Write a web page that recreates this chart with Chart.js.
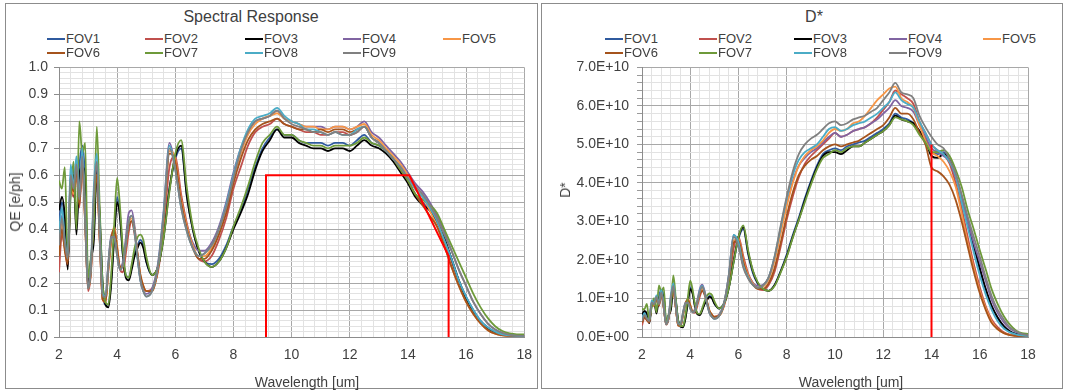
<!DOCTYPE html>
<html><head><meta charset="utf-8">
<script src="https://cdn.jsdelivr.net/npm/chart.js@4.4.1/dist/chart.umd.min.js"></script>
<style>
html,body{margin:0;padding:0;background:#fff;}
body{width:1065px;height:392px;position:relative;overflow:hidden;font-family:"Liberation Sans",Arial,sans-serif;color:#404040;}
.panel{position:absolute;box-sizing:border-box;border:1px solid #8c8c8c;}
.title{position:absolute;width:300px;text-align:center;font-size:16px;line-height:18px;transform:translate(-50%,-50%);}
.leg{position:absolute;font-size:13px;line-height:14px;white-space:nowrap;transform:translateY(-50%);}
.leg i{display:inline-block;width:18px;height:2px;vertical-align:middle;margin-right:1px;position:relative;top:-1px;}
.axt{position:absolute;font-size:14px;line-height:16px;white-space:nowrap;transform:translate(-50%,-50%);}
.axt.rot{transform:translate(-50%,-50%) rotate(-90deg);}
canvas{position:absolute;}
</style></head>
<body>
<div class="panel" style="left:5px;top:3px;width:533px;height:386px;"></div>
<div class="panel" style="left:541px;top:3px;width:522px;height:386px;"></div>
<canvas id="cL" width="537" height="337" style="left:0px;top:53px;"></canvas>
<canvas id="cR" width="521" height="339" style="left:541px;top:51px;"></canvas>
<div class="title" style="left:251px;top:17px;">Spectral Response</div>
<div class="title" style="left:814px;top:17px;">D*</div>
<div class="axt" style="left:307px;top:382px;">Wavelength [um]</div>
<div class="axt" style="left:851px;top:382px;">Wavelength [um]</div>
<div class="axt rot" style="left:15px;top:202px;">QE [e/ph]</div>
<div class="axt rot" style="left:565px;top:190px;">D*</div>
<div id="legends"></div>
<script>
// ---------- DATA ----------
const wavelength = [2.0,2.1,2.2,2.3,2.4,2.5,2.6,2.7,2.8,2.9,
 3.0,3.1,3.2,3.3,3.4,3.5,3.6,3.7,3.8,3.9,
 4.0,4.1,4.2,4.3,4.4,4.5,4.6,4.7,4.8,4.9,
 5.0,5.2,5.4,5.6,5.8,6.0,6.2,6.4,6.6,6.8,
 7.0,7.25,7.5,7.75,8.0,8.25,8.5,8.75,9.0,9.25,
 9.5,9.75,10.0,10.25,10.5,10.75,11.0,11.25,11.5,11.75,
 12.0,12.25,12.5,12.75,13.0,13.25,13.5,13.75,14.0,14.25,
 14.5,14.75,15.0,15.25,15.5,15.75,16.0,16.25,16.5,16.75,
 17.0,17.25,17.5,17.75,18.0];

const fovNames = ['FOV1','FOV2','FOV3','FOV4','FOV5','FOV6','FOV7','FOV8','FOV9'];
const fovColors = ['#2F5A9E','#C0504D','#000000','#8064A2','#F79646','#A5531C','#6E9A3A','#4BACC6','#808080'];

// QE [e/ph]
const qeFOV1 = [0.43,0.50,0.42,0.27,0.58,0.62,0.42,0.63,0.71,0.58,
 0.19,0.28,0.40,0.64,0.44,0.18,0.12,0.12,0.22,0.38,
 0.52,0.45,0.30,0.23,0.22,0.26,0.31,0.34,0.36,0.34,
 0.28,0.23,0.26,0.38,0.55,0.66,0.70,0.52,0.40,0.32,
 0.28,0.27,0.29,0.34,0.41,0.47,0.55,0.63,0.70,0.74,
 0.77,0.75,0.75,0.73,0.72,0.72,0.72,0.71,0.72,0.72,
 0.71,0.73,0.75,0.72,0.71,0.69,0.66,0.62,0.58,0.53,
 0.50,0.47,0.43,0.36,0.29,0.21,0.15,0.10,0.06,0.035,
 0.018,0.01,0.006,0.004,0.003];
const qeFOV2 = [0.24,0.38,0.33,0.26,0.55,0.52,0.60,0.48,0.64,0.42,
 0.17,0.24,0.48,0.58,0.36,0.14,0.13,0.25,0.36,0.39,
 0.32,0.25,0.24,0.31,0.39,0.43,0.38,0.30,0.22,0.18,
 0.17,0.18,0.24,0.40,0.63,0.67,0.53,0.42,0.34,0.29,
 0.28,0.30,0.36,0.44,0.55,0.63,0.71,0.76,0.78,0.79,
 0.81,0.79,0.78,0.77,0.76,0.76,0.75,0.75,0.76,0.76,
 0.75,0.76,0.78,0.74,0.72,0.69,0.66,0.62,0.59,0.55,
 0.52,0.48,0.43,0.36,0.28,0.20,0.14,0.09,0.055,0.03,
 0.015,0.008,0.005,0.004,0.003];
const qeFOV3 = [0.47,0.52,0.45,0.25,0.55,0.60,0.38,0.60,0.63,0.60,
 0.20,0.29,0.36,0.62,0.45,0.20,0.12,0.11,0.20,0.37,
 0.50,0.44,0.30,0.22,0.21,0.25,0.30,0.33,0.35,0.33,
 0.28,0.23,0.26,0.37,0.55,0.67,0.71,0.52,0.40,0.32,
 0.28,0.26,0.28,0.33,0.40,0.46,0.53,0.62,0.69,0.73,
 0.77,0.74,0.74,0.72,0.71,0.70,0.70,0.69,0.70,0.70,
 0.69,0.71,0.73,0.71,0.70,0.68,0.65,0.61,0.57,0.52,
 0.49,0.47,0.43,0.37,0.29,0.21,0.14,0.09,0.055,0.03,
 0.016,0.009,0.006,0.004,0.003];
const qeFOV4 = [0.35,0.45,0.34,0.28,0.60,0.55,0.64,0.50,0.67,0.44,
 0.19,0.26,0.52,0.64,0.38,0.15,0.15,0.28,0.38,0.38,
 0.31,0.26,0.28,0.37,0.46,0.47,0.41,0.30,0.21,0.17,
 0.16,0.18,0.27,0.47,0.72,0.63,0.49,0.41,0.35,0.32,
 0.32,0.35,0.41,0.50,0.61,0.70,0.76,0.80,0.81,0.82,
 0.84,0.81,0.80,0.79,0.78,0.78,0.78,0.77,0.78,0.78,
 0.77,0.78,0.80,0.76,0.74,0.71,0.68,0.65,0.61,0.57,
 0.54,0.50,0.45,0.39,0.32,0.25,0.19,0.13,0.085,0.05,
 0.028,0.015,0.008,0.005,0.004];
const qeFOV5 = [0.33,0.42,0.33,0.28,0.58,0.53,0.62,0.50,0.66,0.43,
 0.18,0.25,0.50,0.60,0.37,0.14,0.13,0.25,0.36,0.41,
 0.34,0.26,0.26,0.34,0.42,0.44,0.40,0.31,0.23,0.19,
 0.17,0.17,0.25,0.43,0.69,0.66,0.51,0.41,0.34,0.30,
 0.30,0.33,0.39,0.47,0.58,0.68,0.75,0.79,0.81,0.82,
 0.83,0.81,0.80,0.79,0.78,0.78,0.77,0.77,0.78,0.78,
 0.77,0.78,0.79,0.75,0.73,0.70,0.67,0.64,0.60,0.55,
 0.52,0.47,0.41,0.34,0.26,0.19,0.13,0.085,0.05,0.025,
 0.012,0.006,0.004,0.003,0.003];
const qeFOV6 = [0.30,0.40,0.32,0.27,0.57,0.54,0.62,0.49,0.65,0.42,
 0.18,0.25,0.49,0.60,0.36,0.14,0.13,0.26,0.37,0.40,
 0.33,0.26,0.26,0.34,0.41,0.43,0.39,0.31,0.23,0.19,
 0.17,0.17,0.25,0.44,0.68,0.65,0.50,0.40,0.33,0.29,
 0.29,0.32,0.38,0.46,0.57,0.66,0.73,0.77,0.79,0.80,
 0.81,0.79,0.78,0.77,0.77,0.76,0.77,0.76,0.77,0.77,
 0.76,0.77,0.78,0.74,0.72,0.69,0.66,0.62,0.58,0.53,
 0.49,0.45,0.41,0.34,0.26,0.19,0.13,0.085,0.05,0.025,
 0.012,0.006,0.004,0.003,0.003];
const qeFOV7 = [0.58,0.55,0.63,0.30,0.52,0.65,0.40,0.80,0.68,0.72,
 0.22,0.30,0.42,0.78,0.48,0.20,0.13,0.12,0.24,0.42,
 0.59,0.48,0.32,0.23,0.22,0.27,0.33,0.37,0.38,0.36,
 0.30,0.23,0.26,0.37,0.54,0.68,0.73,0.55,0.41,0.33,
 0.28,0.26,0.28,0.33,0.41,0.48,0.56,0.65,0.72,0.75,
 0.78,0.75,0.75,0.73,0.72,0.71,0.71,0.70,0.71,0.71,
 0.71,0.72,0.74,0.72,0.71,0.69,0.66,0.62,0.58,0.53,
 0.51,0.49,0.46,0.40,0.34,0.28,0.22,0.16,0.11,0.07,
 0.04,0.022,0.013,0.01,0.01];
const qeFOV8 = [0.38,0.48,0.36,0.30,0.64,0.56,0.67,0.52,0.70,0.45,
 0.18,0.27,0.56,0.68,0.40,0.16,0.15,0.27,0.37,0.37,
 0.30,0.25,0.27,0.35,0.43,0.45,0.39,0.29,0.21,0.17,
 0.15,0.17,0.26,0.46,0.71,0.62,0.48,0.39,0.33,0.30,
 0.31,0.34,0.40,0.49,0.60,0.70,0.77,0.81,0.82,0.83,
 0.85,0.82,0.80,0.79,0.77,0.77,0.76,0.75,0.76,0.75,
 0.75,0.77,0.78,0.74,0.72,0.69,0.66,0.63,0.59,0.55,
 0.52,0.48,0.43,0.36,0.29,0.21,0.15,0.10,0.06,0.035,
 0.02,0.01,0.006,0.004,0.003];
const qeFOV9 = [0.34,0.44,0.35,0.29,0.60,0.55,0.64,0.51,0.67,0.44,
 0.18,0.26,0.53,0.65,0.39,0.15,0.15,0.27,0.37,0.37,
 0.30,0.25,0.27,0.35,0.43,0.45,0.40,0.30,0.21,0.17,
 0.15,0.17,0.26,0.45,0.70,0.62,0.48,0.39,0.33,0.30,
 0.31,0.34,0.40,0.48,0.59,0.69,0.76,0.80,0.81,0.82,
 0.84,0.81,0.79,0.78,0.77,0.76,0.76,0.75,0.76,0.75,
 0.75,0.76,0.78,0.74,0.72,0.69,0.66,0.63,0.59,0.56,
 0.53,0.49,0.44,0.38,0.32,0.25,0.19,0.13,0.085,0.05,
 0.028,0.015,0.008,0.005,0.004];

// D* in units of 1E+10
const D_UNIT = 1e10;
const dFOV1 = [0.53,0.65,0.57,0.39,0.86,0.96,0.68,1.05,1.23,1.04,
 0.35,0.54,0.79,1.31,0.93,0.39,0.27,0.28,0.52,0.92,
 1.29,1.14,0.78,0.61,0.60,0.73,0.88,0.99,1.07,1.03,
 0.87,0.74,0.87,1.30,1.95,2.55,2.80,2.15,1.65,1.38,
 1.25,1.20,1.36,1.72,2.15,2.65,3.10,3.60,4.05,4.45,
 4.75,4.85,4.90,4.85,4.95,5.00,5.05,5.10,5.20,5.30,
 5.40,5.55,5.80,5.70,5.65,5.55,5.35,5.15,4.80,4.75,
 4.80,4.60,4.20,3.60,2.95,2.35,1.75,1.20,0.78,0.48,
 0.27,0.14,0.08,0.05,0.04];
const dFOV2 = [0.30,0.50,0.45,0.37,0.82,0.81,0.97,0.81,1.11,0.76,
 0.32,0.46,0.95,1.19,0.76,0.30,0.29,0.57,0.85,0.95,
 0.79,0.64,0.63,0.83,1.06,1.20,1.08,0.87,0.65,0.55,
 0.53,0.58,0.80,1.38,2.30,2.60,2.10,1.65,1.40,1.25,
 1.22,1.35,1.70,2.35,3.05,3.65,4.15,4.50,4.70,4.85,
 5.00,5.15,5.30,5.20,5.25,5.35,5.40,5.45,5.55,5.70,
 5.90,6.10,6.40,6.30,6.20,6.05,5.60,5.30,5.00,4.85,
 4.75,4.50,4.00,3.35,2.60,1.90,1.30,0.80,0.45,0.25,
 0.12,0.06,0.04,0.03,0.02];
const dFOV3 = [0.58,0.68,0.61,0.36,0.82,0.93,0.61,1.00,1.09,1.08,
 0.37,0.56,0.71,1.27,0.95,0.43,0.27,0.25,0.47,0.89,
 1.24,1.12,0.78,0.59,0.57,0.70,0.86,0.96,1.04,1.00,
 0.87,0.74,0.87,1.28,1.98,2.60,2.85,2.20,1.70,1.40,
 1.25,1.20,1.35,1.70,2.10,2.60,3.05,3.55,4.00,4.40,
 4.70,4.80,4.80,4.75,4.85,4.95,4.95,5.05,5.15,5.25,
 5.35,5.50,5.75,5.65,5.60,5.55,5.35,5.10,4.70,4.65,
 4.75,4.60,4.20,3.65,3.00,2.40,1.80,1.25,0.80,0.50,
 0.28,0.15,0.08,0.05,0.04];
const dFOV4 = [0.43,0.58,0.46,0.40,0.90,0.85,1.03,0.84,1.16,0.79,
 0.35,0.50,1.03,1.31,0.80,0.33,0.33,0.64,0.89,0.92,
 0.77,0.66,0.73,0.98,1.26,1.36,1.18,0.88,0.63,0.52,
 0.48,0.58,0.88,1.62,2.65,2.40,1.85,1.60,1.40,1.33,
 1.35,1.55,2.05,2.75,3.45,4.05,4.45,4.65,4.80,4.90,
 5.05,5.20,5.30,5.20,5.25,5.35,5.40,5.45,5.55,5.65,
 5.80,5.95,6.15,6.00,5.95,5.85,5.50,5.20,4.90,4.80,
 4.70,4.55,4.15,3.60,3.00,2.45,1.95,1.45,0.95,0.62,
 0.38,0.22,0.13,0.07,0.05];
const dFOV5 = [0.41,0.55,0.45,0.40,0.87,0.82,1.00,0.84,1.14,0.77,
 0.34,0.48,0.99,1.23,0.78,0.30,0.29,0.57,0.85,0.99,
 0.84,0.66,0.68,0.90,1.14,1.24,1.14,0.90,0.68,0.58,
 0.52,0.55,0.84,1.50,2.50,2.55,2.00,1.60,1.38,1.28,
 1.30,1.50,2.00,2.70,3.40,4.00,4.45,4.70,4.85,4.95,
 5.10,5.30,5.40,5.35,5.40,5.55,5.60,5.75,5.95,6.15,
 6.30,6.45,6.50,6.20,6.10,5.95,5.50,5.10,4.80,4.70,
 4.55,4.30,3.90,3.20,2.45,1.80,1.20,0.75,0.40,0.20,
 0.10,0.05,0.03,0.02,0.02];
const dFOV6 = [0.37,0.52,0.44,0.38,0.85,0.84,1.00,0.82,1.12,0.76,
 0.33,0.48,0.97,1.22,0.76,0.30,0.29,0.59,0.87,0.97,
 0.82,0.66,0.68,0.90,1.11,1.20,1.11,0.90,0.68,0.58,
 0.52,0.55,0.84,1.52,2.45,2.50,1.95,1.55,1.35,1.25,
 1.25,1.40,1.80,2.45,3.15,3.75,4.20,4.45,4.60,4.70,
 4.85,4.95,5.00,4.95,5.00,5.05,5.10,5.20,5.30,5.40,
 5.50,5.70,5.95,5.80,5.80,5.65,5.30,5.00,4.40,4.30,
 4.17,3.95,3.56,3.00,2.35,1.70,1.14,0.70,0.36,0.20,
 0.10,0.05,0.03,0.02,0.02];
const dFOV7 = [0.72,0.72,0.86,0.43,0.77,1.01,0.64,1.34,1.18,1.29,
 0.41,0.58,0.83,1.60,1.01,0.43,0.29,0.28,0.57,1.02,
 1.46,1.22,0.83,0.61,0.60,0.75,0.94,1.08,1.13,1.09,
 0.93,0.74,0.87,1.28,1.94,2.60,2.90,2.25,1.72,1.42,
 1.26,1.20,1.33,1.68,2.08,2.58,3.04,3.50,3.95,4.35,
 4.65,4.75,4.85,4.80,4.90,4.95,4.95,5.05,5.15,5.25,
 5.35,5.50,5.70,5.65,5.60,5.50,5.25,5.05,4.80,4.80,
 4.85,4.70,4.35,3.90,3.30,2.80,2.26,1.75,1.23,0.85,
 0.54,0.32,0.17,0.10,0.08];
const dFOV8 = [0.47,0.62,0.49,0.43,0.95,0.87,1.08,0.87,1.22,0.81,
 0.33,0.52,1.11,1.39,0.84,0.35,0.33,0.62,0.87,0.89,
 0.74,0.64,0.70,0.93,1.22,1.33,1.15,0.85,0.62,0.52,
 0.47,0.55,0.87,1.60,2.65,2.45,1.85,1.55,1.35,1.28,
 1.32,1.55,2.10,2.85,3.60,4.20,4.60,4.80,4.90,5.00,
 5.20,5.40,5.45,5.35,5.40,5.50,5.55,5.60,5.70,5.80,
 5.95,6.10,6.35,6.15,6.05,5.95,5.60,5.30,5.00,4.85,
 4.75,4.55,4.20,3.50,2.85,2.20,1.60,1.10,0.70,0.40,
 0.22,0.12,0.07,0.04,0.03];
const dFOV9 = [0.42,0.57,0.48,0.41,0.90,0.85,1.04,0.85,1.16,0.80,
 0.33,0.50,1.05,1.33,0.82,0.33,0.33,0.62,0.87,0.89,
 0.74,0.64,0.70,0.93,1.18,1.30,1.14,0.87,0.62,0.52,
 0.47,0.55,0.88,1.60,2.60,2.35,1.80,1.52,1.35,1.28,
 1.33,1.55,2.10,2.90,3.65,4.30,4.75,5.00,5.15,5.25,
 5.40,5.55,5.60,5.50,5.55,5.65,5.70,5.75,5.85,5.95,
 6.15,6.35,6.60,6.35,6.30,6.20,5.75,5.45,5.20,5.00,
 4.90,4.60,4.25,3.70,3.13,2.60,2.09,1.55,1.05,0.70,
 0.45,0.25,0.15,0.08,0.05];

// Red specification outlines
const qeSpecX = [9.12, 9.12, 14.05, 15.4, 15.4];
const qeSpecY = [0, 0.6, 0.6, 0.3, 0];
const dSpecX = [14, 14];
const dSpecY = [0, 5.0];

// Tick labels
const xTickLabels = ['2','4','6','8','10','12','14','16','18'];

// ---------- CHARTS ----------
const qeSeries = [qeFOV1,qeFOV2,qeFOV3,qeFOV4,qeFOV5,qeFOV6,qeFOV7,qeFOV8,qeFOV9];
const dSeries = [dFOV1,dFOV2,dFOV3,dFOV4,dFOV5,dFOV6,dFOV7,dFOV8,dFOV9];

Chart.defaults.font.family = '"Liberation Sans", Arial, sans-serif';
Chart.defaults.font.size = 14;
Chart.defaults.color = '#404040';

function isMult(v, step) { const r = v / step; return Math.abs(r - Math.round(r)) < 1e-6; }

function buildSets(series, scale, specX, specY) {
  const sets = series.map((arr, i) => ({
    label: fovNames[i],
    data: wavelength.map((x, j) => ({ x: x, y: arr[j] * scale })),
    borderColor: fovColors[i],
    borderWidth: 1.8,
    pointRadius: 0,
    fill: false,
    cubicInterpolationMode: 'monotone',
    order: 9 - i
  }));
  sets.push({
    label: 'spec',
    data: specX.map((x, j) => ({ x: x, y: specY[j] * scale })),
    borderColor: '#FF0000',
    borderWidth: 2,
    pointRadius: 0,
    fill: false,
    tension: 0,
    order: -1
  });
  return sets;
}

function xScale() {
  return {
    type: 'linear', min: 2, max: 18,
    ticks: { stepSize: 0.4, autoSkip: false, maxRotation: 0, padding: 5,
      callback: v => isMult(v, 2) ? xTickLabels[Math.round((v - 2) / 2)] : '' },
    grid: { color: c => isMult(c.tick.value, 2) ? '#a8a8a8' : '#e2e2e2', lineWidth: 1,
      tickLength: 5, tickColor: 'rgba(0,0,0,0)' },
    border: { color: '#8c8c8c' },
    afterFit: s => { s.height = 53; }
  };
}

function makeChart(id, datasets, yScale, padRight) {
  new Chart(document.getElementById(id), {
    type: 'line',
    data: { datasets: datasets },
    options: {
      responsive: false, animation: false, devicePixelRatio: 1,
      layout: { padding: { left: 0, right: padRight, top: 0, bottom: 0 } },
      plugins: { legend: { display: false }, tooltip: { enabled: false } },
      scales: { x: xScale(), y: yScale }
    }
  });
}

makeChart('cL', buildSets(qeSeries, 1, qeSpecX, qeSpecY), {
  type: 'linear', min: 0, max: 1,
  ticks: { stepSize: 0.02, autoSkip: false, padding: 6,
    callback: v => isMult(v, 0.1) ? v.toFixed(1) : '' },
  grid: { color: c => isMult(c.tick.value, 0.1) ? '#a8a8a8' : '#e2e2e2',
    tickLength: 5, tickColor: c => isMult(c.tick.value, 0.1) ? '#8c8c8c' : 'rgba(0,0,0,0)' },
  border: { color: '#8c8c8c' },
  afterFit: s => { s.width = 59; }
}, 12);

makeChart('cR', buildSets(dSeries, D_UNIT, dSpecX, dSpecY), {
  type: 'linear', min: 0, max: 7 * D_UNIT,
  ticks: { stepSize: 0.2 * D_UNIT, autoSkip: false, padding: 8,
    callback: v => isMult(v, D_UNIT) ? (v === 0 ? '0.0E+00' : (v / D_UNIT).toFixed(1) + 'E+10') : '' },
  grid: { color: c => isMult(c.tick.value, D_UNIT) ? '#a8a8a8' : '#e2e2e2',
    tickLength: 5, tickColor: '#9a9a9a' },
  border: { color: '#8c8c8c' },
  afterFit: s => { s.width = 101; }
}, 34);

// ---------- HTML legends ----------
const legendCols = { L: [47, 145, 245, 343, 443], R: [605, 699, 794, 889, 983] };
const legendRows = [39, 53];
const host = document.getElementById('legends');
['L', 'R'].forEach(side => {
  fovNames.forEach((name, i) => {
    const d = document.createElement('div');
    d.className = 'leg';
    d.style.left = legendCols[side][i % 5] + 'px';
    d.style.top = legendRows[Math.floor(i / 5)] + 'px';
    d.innerHTML = '<i style="background:' + fovColors[i] + '"></i>' + name;
    host.appendChild(d);
  });
});
</script>
</body></html>
